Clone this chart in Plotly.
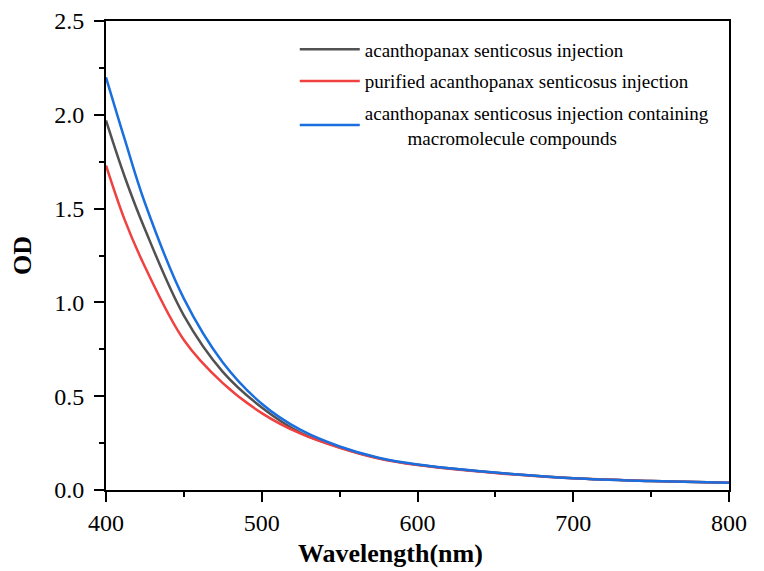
import plotly.graph_objects as go

# wavelength (nm) and OD
wavelength = [400, 412, 425, 450, 475, 500, 525, 550, 575, 600, 650, 700, 750, 800]

od_injection = [1.97, 1.67, 1.39, 0.93, 0.63, 0.44, 0.305, 0.228, 0.17, 0.134, 0.092, 0.063, 0.048, 0.038]
od_purified = [1.73, 1.44, 1.19, 0.80, 0.57, 0.41, 0.30, 0.225, 0.168, 0.133, 0.091, 0.062, 0.048, 0.038]
od_macro = [2.20, 1.87, 1.53, 1.02, 0.68, 0.46, 0.32, 0.232, 0.172, 0.136, 0.093, 0.063, 0.048, 0.038]

series_names = [
    "acanthopanax senticosus injection",
    "purified acanthopanax senticosus injection",
    "acanthopanax senticosus injection containing<br>" + "\u00a0" * 9 + "macromolecule compounds",
]
series_colors = ["#515151", "#F14040", "#1A6FDF"]

fig = go.Figure()
for i, (name, ys, color) in enumerate(zip(series_names, [od_injection, od_purified, od_macro], series_colors)):
    fig.add_trace(go.Scatter(
        x=wavelength, y=ys, name=name, mode="lines", legendgroup=str(i),
        line=dict(color=color, width=2.5, shape="spline", smoothing=1.0),
    ))

axis_font = dict(family="Liberation Serif", size=24, color="black")
title_font = dict(family="Liberation Serif", size=26, color="black")

fig.update_xaxes(
    range=[400, 800], dtick=100, tick0=400,
    ticks="outside", ticklen=10, tickwidth=2, tickcolor="black",
    minor=dict(ticks="outside", ticklen=5, tickwidth=2, tickcolor="black", dtick=50),
    showline=True, linewidth=2, linecolor="black", mirror=True,
    showgrid=False, zeroline=False, tickfont=axis_font, automargin=False,
)
fig.update_yaxes(
    range=[0, 2.5], dtick=0.5, tick0=0, tickformat=".1f",
    ticks="outside", ticklen=10, tickwidth=2, tickcolor="black",
    minor=dict(ticks="outside", ticklen=5, tickwidth=2, tickcolor="black", dtick=0.25),
    showline=True, linewidth=2, linecolor="black", mirror=True,
    showgrid=False, zeroline=False, tickfont=axis_font, automargin=False,
    ticklabelstandoff=5,
    title=dict(text="<b>OD</b>", font=title_font, standoff=18),
)

# x title sits a bit left of centre in the original, so it is an annotation
fig.add_annotation(
    text="<b>Wavelength(nm)</b>", xref="paper", yref="paper",
    x=0.456, y=-0.136, xanchor="center", yanchor="middle",
    showarrow=False, font=title_font,
)

# the page adds an 8px body margin, so margins are offset by that
fig.update_layout(
    width=764, height=571,
    margin=dict(l=98, r=43, t=13, b=89),
    paper_bgcolor="white", plot_bgcolor="white",
    legend=dict(
        x=0.303, y=0.98, xanchor="left", yanchor="top",
        font=dict(family="Liberation Serif", size=19, color="black"),
        bgcolor="rgba(0,0,0,0)", itemwidth=60,
        traceorder="grouped", tracegroupgap=4,
    ),
)

fig.write_html("out.html")
